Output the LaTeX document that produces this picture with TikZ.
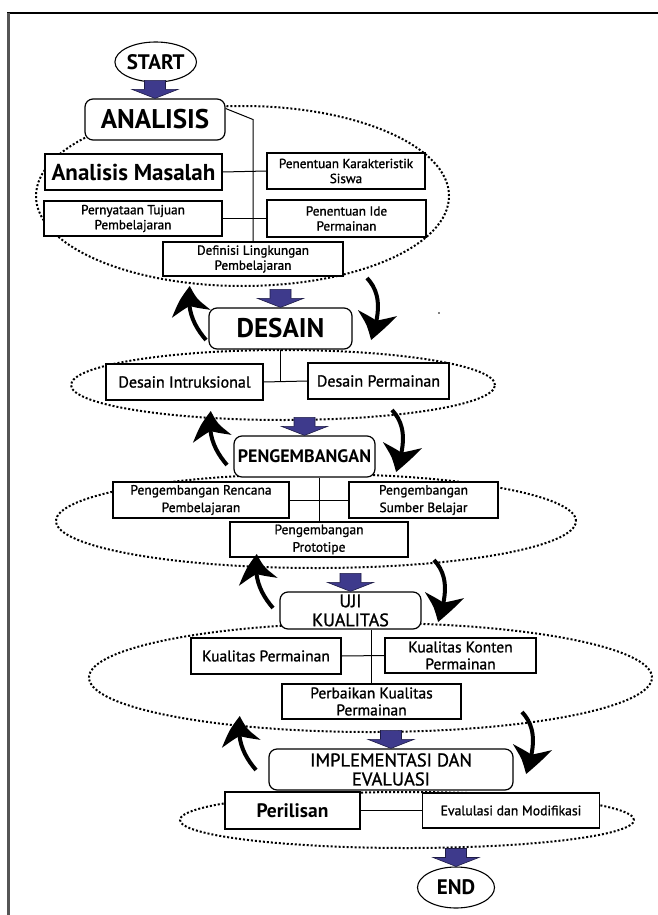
\documentclass[tikz,border=0pt]{standalone}
\usepackage{fontspec}
\setmainfont{PT Sans}
\newfontfamily\midsans{PT Sans}[FakeBold=1.2]
\usetikzlibrary{arrows.meta,bending,shapes.geometric}
\definecolor{flowblue}{RGB}{62,58,140}
\definecolor{flowedge}{RGB}{30,28,70}
\definecolor{framegray}{RGB}{85,85,85}
\tikzset{stage/.style={draw,rounded corners=8pt,line width=1.2pt,fill=white,align=center,inner sep=0pt},
  task/.style={draw,line width=1.1pt,fill=white,align=center,inner sep=0pt},
  zone/.style={ellipse,draw,line width=2pt,dash pattern=on 2pt off 2pt,inner sep=0pt},
  terminal/.style={ellipse,draw,line width=1.1pt,fill=white,inner sep=0pt,font=\bfseries\fontsize{21}{23}\selectfont},
  link/.style={line width=1pt},
  loopback/.style={line width=4pt,-{Stealth[length=30pt,width=38pt,inset=9pt,bend]}}}
% blue block arrow ending on top of a stage
\newcommand{\feedin}[1]{\filldraw[fill=flowblue,draw=flowedge,line width=0.6pt]
  (#1.north) -- ++(-23,-9) -- ++(12.5,0) -- ++(0,-9) -- ++(21,0) -- ++(0,9) -- ++(12.5,0) -- cycle;}

\begin{document}
\begin{tikzpicture}[x=1pt,y=-1pt]
\useasboundingbox (0,0) rectangle (658,915);
\draw[line width=2pt] (7,12.7) -- (658,12.7);
\draw[line width=2.5pt,framegray] (8.4,12.7) -- (8.4,915);

% dotted zones
\node[zone,minimum width=413pt,minimum height=180pt] (e1) at (242.5,196) {};
\node[zone,minimum width=424pt,minimum height=70pt] (e2) at (283,385) {};
\node[zone,minimum width=520pt,minimum height=94pt] (e3) at (316,521) {};
\node[zone,minimum width=563pt,minimum height=109pt] (e4) at (370.5,677.5) {};
\node[zone,minimum width=454pt,minimum height=56pt] (e5) at (407,820) {};

\node[terminal,minimum width=76pt,minimum height=40pt] (start) at (155.7,62) {START};

% analisis
\node[stage,minimum width=140pt,minimum height=41pt,font=\bfseries\fontsize{27}{29}\selectfont] (analisis) at (155,119.5) {ANALISIS};
\node[task,minimum width=177pt,minimum height=36pt,font=\bfseries\fontsize{23}{25}\selectfont] (masalah) at (133.5,172) {Analisis Masalah};
\node[task,minimum width=158pt,minimum height=36pt,font=\midsans\fontsize{13.2}{15}\selectfont] (karakteristik) at (346,171) {Penentuan Karakteristik\\Siswa};
\node[task,minimum width=178pt,minimum height=35pt,font=\midsans\fontsize{13.2}{15}\selectfont] (tujuan) at (133,218.5) {Pernyataan Tujuan\\Pembelajaran};
\node[task,minimum width=159pt,minimum height=37pt,font=\midsans\fontsize{13.2}{15}\selectfont] (ide) at (346.5,218.5) {Penentuan Ide\\Permainan};
\node[task,minimum width=180pt,minimum height=34pt,font=\midsans\fontsize{13.2}{15}\selectfont] (definisi) at (253,259) {Definisi Lingkungan\\Pembelajaran};
\draw[link] ([yshift=11pt]analisis.east) -- (analisis.east -| definisi.north) -- (definisi.north);
\draw[link] (masalah.east) -- (karakteristik.west);
\draw[link] (tujuan.east) -- (ide.west);

% desain
\node[stage,minimum width=143pt,minimum height=41pt,font=\bfseries\fontsize{27}{29}\selectfont] (desain) at (280.5,328.5) {DESAIN};
\node[task,minimum width=157pt,minimum height=36pt,font=\midsans\fontsize{16}{18}\selectfont] (intruksional) at (184.5,382) {Desain Intruksional};
\node[task,minimum width=141pt,minimum height=36pt,font=\midsans\fontsize{16}{18}\selectfont] (permainan) at (378.5,381) {Desain Permainan};
\draw[link] (desain.south) -- (desain.south |- intruksional.east);
\draw[link] (intruksional.east) -- (permainan.west);

% pengembangan
\node[stage,minimum width=141pt,minimum height=41pt,font=\bfseries\fontsize{18}{20}\selectfont] (pengembangan) at (304.5,456.5) {PENGEMBANGAN};
\node[task,minimum width=176pt,minimum height=36pt,font=\midsans\fontsize{13.5}{17.5}\selectfont] (rencana) at (201,500) {Pengembangan Rencana\\Pembelajaran};
\node[task,minimum width=149pt,minimum height=36pt,font=\midsans\fontsize{13.5}{17.5}\selectfont] (sumber) at (423.5,500) {Pengembangan\\Sumber Belajar};
\node[task,minimum width=178pt,minimum height=35pt,font=\midsans\fontsize{13.5}{17.5}\selectfont] (prototipe) at (319,539.5) {Pengembangan\\Prototipe};
\draw[link] (prototipe.north |- pengembangan.south) -- (prototipe.north);
\draw[link] (rencana.east) -- (sumber.west);

% uji kualitas
\node[stage,minimum width=141pt,minimum height=37pt,font=\midsans\fontsize{18}{19}\selectfont] (uji) at (350.5,610.5) {UJI\\KUALITAS};
\node[task,minimum width=150pt,minimum height=36pt,font=\midsans\fontsize{15.5}{17}\selectfont] (kpermainan) at (266,656) {Kualitas Permainan};
\node[task,minimum width=151pt,minimum height=35pt,font=\midsans\fontsize{15.5}{17}\selectfont] (konten) at (460.5,655.5) {Kualitas Konten\\Permainan};
\node[task,minimum width=179pt,minimum height=35pt,font=\midsans\fontsize{15.5}{17}\selectfont] (perbaikan) at (371.5,701.5) {Perbaikan Kualitas\\Permainan};
\draw[link] (perbaikan.north |- uji.south) -- (perbaikan.north);
\draw[link] (kpermainan.east) -- (konten.west);

% implementasi
\node[stage,minimum width=244pt,minimum height=41pt,font=\midsans\fontsize{18.5}{19}\selectfont] (implementasi) at (391,769.5) {IMPLEMENTASI DAN\\EVALUASI};
\node[task,minimum width=135pt,minimum height=37pt,font=\bfseries\fontsize{19.5}{21}\selectfont] (perilisan) at (292.5,810.5) {Perilisan};
\node[task,minimum width=177pt,minimum height=35pt,font=\midsans\fontsize{13.7}{15}\selectfont] (evaluasi) at (511,810.5) {Evalulasi dan Modifikasi};
\draw[link] (perilisan.east) -- (evaluasi.west);

\node[terminal,minimum width=77pt,minimum height=41pt] (end) at (456,887.5) {END};

\foreach \n in {analisis,desain,pengembangan,uji,implementasi,end}
  {\feedin{\n}}

% back and forth loops
\foreach \tx/\ty in {206/340,227/465,273/608,256/770}
  \draw[loopback] (\tx,\ty) .. controls (\tx-12,\ty-14) and (\tx-20,\ty-30) .. (\tx-16,\ty-54);
\foreach \tx/\ty in {367/278,392/410,434/560,522/712}
  \draw[loopback] (\tx,\ty) .. controls (\tx+11,\ty+12) and (\tx+16,\ty+28) .. (\tx+4,\ty+62);

\fill (439,313) circle[radius=0.8pt];
\end{tikzpicture}
\end{document}
